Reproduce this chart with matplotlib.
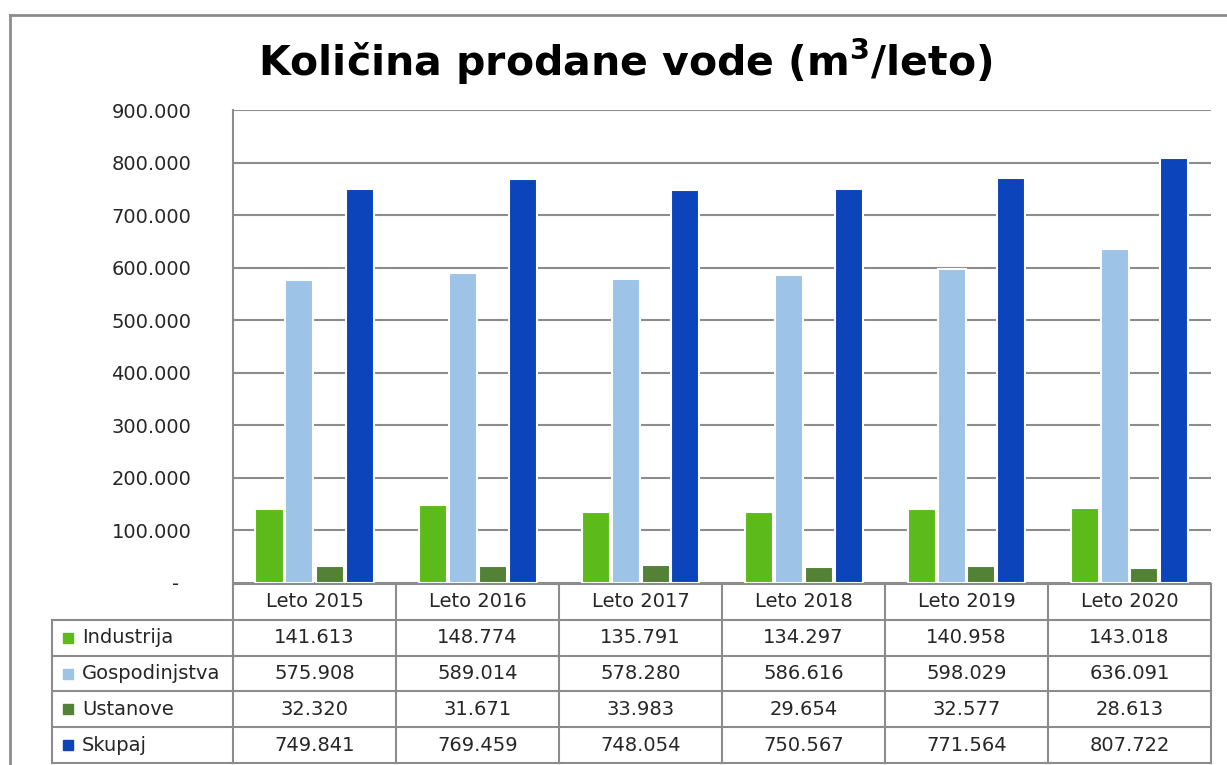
import matplotlib.pyplot as plt
import numpy as np
from matplotlib.lines import Line2D
from matplotlib.ticker import FuncFormatter

# data
years = ['Leto 2015', 'Leto 2016', 'Leto 2017', 'Leto 2018', 'Leto 2019', 'Leto 2020']
series_names = ['Industrija', 'Gospodinjstva', 'Ustanove', 'Skupaj']
industrija = [141613, 148774, 135791, 134297, 140958, 143018]
gospodinjstva = [575908, 589014, 578280, 586616, 598029, 636091]
ustanove = [32320, 31671, 33983, 29654, 32577, 28613]
skupaj = [749841, 769459, 748054, 750567, 771564, 807722]
colors = ['#5cbb1a', '#9dc3e6', '#538135', '#0b44bb']

series = [industrija, gospodinjstva, ustanove, skupaj]
grid_col = '#8c8c8c'
text_col = '#262626'

plt.rcParams['mathtext.fontset'] = 'dejavusans'

W, H = 1227, 765
fig = plt.figure(figsize=(W / 100, H / 100), dpi=100)

# outer frame (cut off on the right and bottom)
fig.add_artist(Line2D([10 / W, 10 / W], [1 - 15 / H, 0], transform=fig.transFigure, color=grid_col, lw=2))
fig.add_artist(Line2D([10 / W, 1], [1 - 15 / H, 1 - 15 / H], transform=fig.transFigure, color=grid_col, lw=2))

fig.text(625 / W, 1 - 62 / H, r'Količina prodane vode (m$^\mathbf{3}$/leto)', ha='center', va='center',
         fontsize=29.5, fontweight='bold', color='black')

# bar chart
ax = fig.add_axes([233 / W, 1 - 583 / H, (1211 - 233) / W, (583 - 110) / H])
x = np.arange(len(years)) + 0.5
pitch = 30 / 163
bw = 28 / 163
for i, (vals, c) in enumerate(zip(series, colors)):
    ax.bar(x + (i - 1.5) * pitch, vals, width=bw, color=c, edgecolor='white', linewidth=1.5, zorder=3)

ax.set_xlim(0, len(years))
ax.set_ylim(0, 900000)
ax.set_yticks(np.arange(0, 900001, 100000))
ax.yaxis.set_major_formatter(FuncFormatter(lambda v, p: '-  ' if v == 0 else f'{v:,.0f}'.replace(',', '.')))
ax.tick_params(axis='y', length=0, pad=30, labelsize=14, labelcolor=text_col)
ax.set_xticks([])
ax.grid(axis='y', color=grid_col, lw=1.5, zorder=0)
for s in ['top', 'right', 'bottom']:
    ax.spines[s].set_visible(False)
ax.spines['left'].set_color(grid_col)
ax.spines['left'].set_linewidth(1.5)

# data table underneath
lab_w = 181 / 163
tx = fig.add_axes([52 / W, 1 - 763 / H, (1211 - 52) / W, (763 - 584) / H])
tx.set_xlim(-lab_w, len(years))
tx.set_ylim(len(series) + 1, 0)
tx.axis('off')

n_rows = len(series) + 1
# horizontal lines
tx.plot([0, len(years)], [0, 0], color=grid_col, lw=1.5, clip_on=False)
for r in range(1, n_rows + 1):
    tx.plot([-lab_w, len(years)], [r, r], color=grid_col, lw=1.5, clip_on=False)
# vertical lines
tx.plot([-lab_w, -lab_w], [1, n_rows], color=grid_col, lw=1.5, clip_on=False)
for c in range(len(years) + 1):
    tx.plot([c, c], [0, n_rows], color=grid_col, lw=1.5, clip_on=False)

for j, yr in enumerate(years):
    tx.text(j + 0.5, 0.5, yr, ha='center', va='center', fontsize=14, color=text_col)
for i, (name, vals, c) in enumerate(zip(series_names, series, colors)):
    r = i + 1.5
    tx.plot(-lab_w + 16 / 163, r, marker='s', ms=7.5, color=c, mec=c, clip_on=False)
    tx.text(-lab_w + 30 / 163, r, name, ha='left', va='center', fontsize=14, color=text_col)
    for j, v in enumerate(vals):
        tx.text(j + 0.5, r, f'{v:,.0f}'.replace(',', '.'), ha='center', va='center',
                fontsize=14, color=text_col)

fig.savefig('out.png', dpi=100, facecolor='white')
